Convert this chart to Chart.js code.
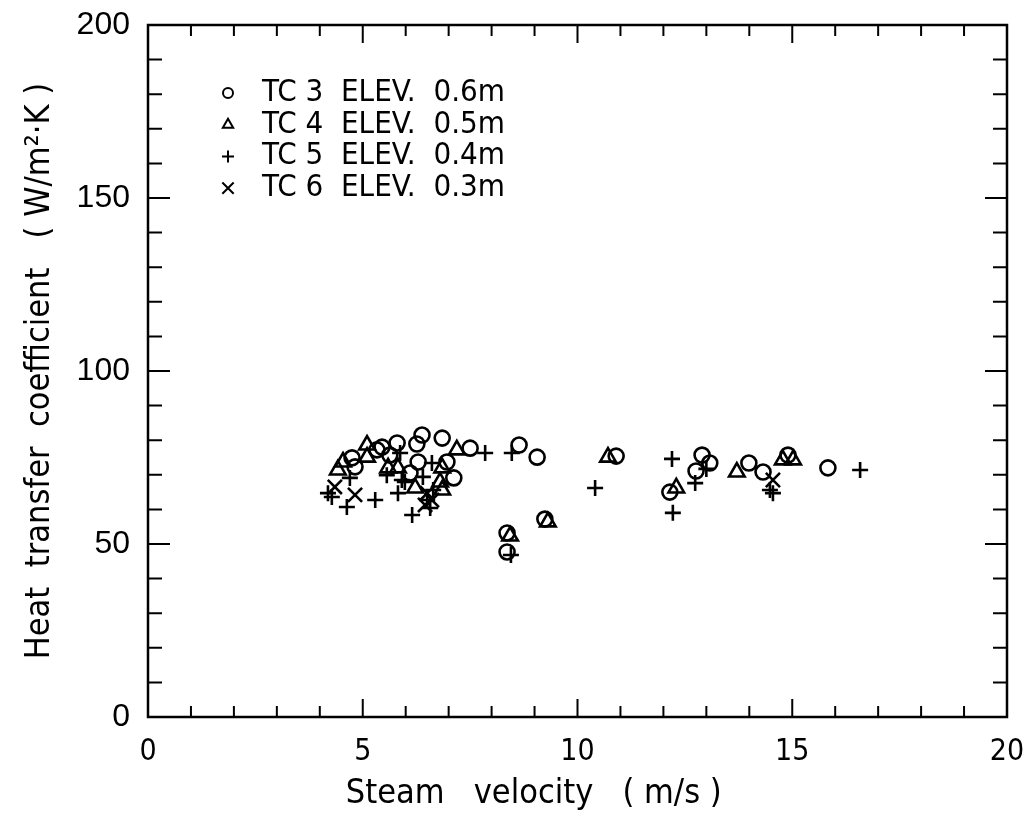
<!DOCTYPE html>
<html>
<head>
<meta charset="utf-8">
<script src="https://cdn.jsdelivr.net/npm/chart.js@4.4.0/dist/chart.umd.min.js"></script>
<style>
  html, body { margin: 0; padding: 0; background: #fff; }
  #wrap { width: 1029px; height: 819px; }
</style>
</head>
<body>
<div id="wrap"><canvas id="chart" width="1029" height="819"></canvas></div>
<script>
// values (x = steam velocity m/s, y = h W/m2K)
const tc3 = [
    [4.75, 74.9], [4.82, 72.3], [5.33, 77.2], [5.45, 78.0], [5.8, 79.2], [5.63, 75.7],
    [6.38, 81.5], [6.26, 78.9], [6.85, 80.6], [6.29, 73.7], [6.1, 70.5], [6.96, 73.7],
    [7.12, 69.1], [7.5, 77.7], [8.64, 78.6], [9.06, 75.1], [9.24, 57.2], [8.36, 53.2],
    [8.36, 47.7], [10.9, 75.4], [12.15, 65.0], [12.9, 75.7], [13.08, 73.4], [12.76, 71.1],
    [13.99, 73.4], [14.32, 70.8], [14.9, 75.7], [15.83, 72.0]
];
const tc4 = [
    [4.42, 71.4], [4.54, 73.7], [5.1, 78.6], [5.1, 75.1], [5.59, 72.0], [5.82, 72.0],
    [6.85, 72.0], [7.19, 77.2], [6.22, 66.2], [6.8, 67.9], [6.85, 65.6], [9.31, 56.4],
    [8.43, 52.3], [10.71, 75.1], [12.3, 66.2], [13.71, 70.8], [14.78, 74.3], [15.02, 74.3]
];
const tc5 = [
    [5.87, 76.3], [5.56, 69.9], [6.61, 73.4], [5.91, 68.5], [7.85, 76.3], [6.4, 69.4],
    [4.19, 64.7], [4.28, 63.6], [4.63, 60.7], [4.7, 69.1], [5.29, 62.7], [5.82, 64.7],
    [6.64, 65.6], [6.57, 60.4], [6.15, 58.4], [6.5, 62.7], [5.98, 67.9], [8.47, 76.3],
    [8.45, 46.8], [10.41, 66.2], [12.2, 74.6], [12.22, 59.0], [13.0, 71.7], [12.74, 67.6],
    [14.48, 65.6], [14.55, 64.7], [16.58, 71.4]
];
const tc6 = [
    [4.35, 66.5], [4.82, 64.2], [6.5, 64.7], [6.45, 61.3], [6.61, 62.7], [14.55, 68.5]
];

const seriesNames = ['TC 3  ELEV.  0.6m', 'TC 4  ELEV.  0.5m', 'TC 5  ELEV.  0.4m', 'TC 6  ELEV.  0.3m'];
const pointStyles = ['circle', 'triangle', 'cross', 'crossRot'];
const pointSizes = [7.5, 9, 8, 10];
const xTicks = [0, 5, 10, 15, 20];
const yTicks = [0, 50, 100, 150, 200];

function toPoints(arr) {
    return arr.map(p => ({ x: p[0], y: p[1] }));
}

const datasets = [tc3, tc4, tc5, tc6].map((arr, i) => ({
    label: seriesNames[i],
    data: toPoints(arr),
    pointStyle: pointStyles[i],
    pointRadius: pointSizes[i],
    borderColor: '#000',
    backgroundColor: 'rgba(0,0,0,0)',
    borderWidth: 2.6
}));

// frame, inward ticks on all four sides, and the in-plot legend
const framePlugin = {
    id: 'frame',
    afterDraw(chart) {
        const ctx = chart.ctx;
        const xs = chart.scales.x;
        const ys = chart.scales.y;
        const a = chart.chartArea;
        ctx.save();
        ctx.strokeStyle = '#000';
        ctx.lineWidth = 2.5;
        ctx.strokeRect(a.left, a.top, a.right - a.left, a.bottom - a.top);
        ctx.lineWidth = 2;
        ctx.beginPath();
        for (let v = 1; v < 20; v++) {
            const px = xs.getPixelForValue(v);
            const len = v % 5 === 0 ? 18 : 11;
            ctx.moveTo(px, a.bottom); ctx.lineTo(px, a.bottom - len);
            ctx.moveTo(px, a.top); ctx.lineTo(px, a.top + len);
        }
        for (let v = 10; v < 200; v += 10) {
            const py = ys.getPixelForValue(v);
            const len = v % 50 === 0 ? 22 : 14;
            ctx.moveTo(a.left, py); ctx.lineTo(a.left + len, py);
            ctx.moveTo(a.right, py); ctx.lineTo(a.right - len, py);
        }
        ctx.stroke();

        // legend
        const lx = a.left + 80;
        const tx = a.left + 114;
        const legendSizes = [5, 6, 6, 8];
        chart.data.datasets.forEach((ds, i) => {
            const ly = a.top + 68 + i * 31.7;
            ctx.fillStyle = 'rgba(0,0,0,0)';
            ctx.strokeStyle = '#000';
            ctx.lineWidth = 2;
            Chart.helpers.drawPoint(ctx, {
                pointStyle: ds.pointStyle,
                radius: legendSizes[i],
                borderWidth: 2
            }, lx, ly);
            ctx.font = '31px "DejaVu Sans Condensed"';
            ctx.fillStyle = '#000';
            ctx.textBaseline = 'middle';
            ctx.fillText(ds.label, tx, ly);
        });
        ctx.restore();
    }
};

new Chart(document.getElementById('chart'), {
    type: 'scatter',
    data: { datasets: datasets },
    options: {
        responsive: false,
        animation: false,
        layout: { padding: { left: 0, right: 22, top: 25, bottom: 0 } },
        plugins: {
            legend: { display: false },
            tooltip: { enabled: false }
        },
        scales: {
            x: {
                type: 'linear',
                min: 0,
                max: 20,
                afterBuildTicks: s => { s.ticks = xTicks.map(v => ({ value: v })); },
                afterFit: s => { s.height = 102; s.paddingLeft = 0; s.paddingRight = 0; },
                grid: { display: false },
                border: { display: false },
                ticks: {
                    color: '#000',
                    padding: 9,
                    maxRotation: 0,
                    font: { family: 'DejaVu Sans Condensed', size: 30 }
                },
                title: {
                    display: true,
                    text: 'Steam   velocity   ( m/s )\u00a0\u00a0\u00a0\u00a0\u00a0\u00a0\u00a0\u00a0\u00a0',
                    color: '#000',
                    padding: { top: 0, bottom: 4 },
                    font: { family: 'DejaVu Sans Condensed', size: 34 }
                }
            },
            y: {
                type: 'linear',
                min: 0,
                max: 200,
                afterBuildTicks: s => { s.ticks = yTicks.map(v => ({ value: v })); },
                afterFit: s => { s.width = 148; s.paddingTop = 0; s.paddingBottom = 0; },
                grid: { display: false },
                border: { display: false },
                ticks: {
                    color: '#000',
                    padding: 10,
                    font: { family: 'Liberation Sans', size: 32 }
                },
                title: {
                    display: true,
                    text: 'Heat  transfer  coefficient   ( W/m²·K )',
                    color: '#000',
                    padding: { top: 20, bottom: 0 },
                    font: { family: 'DejaVu Sans Condensed', size: 34 }
                }
            }
        }
    },
    plugins: [framePlugin]
});
</script>
</body>
</html>
